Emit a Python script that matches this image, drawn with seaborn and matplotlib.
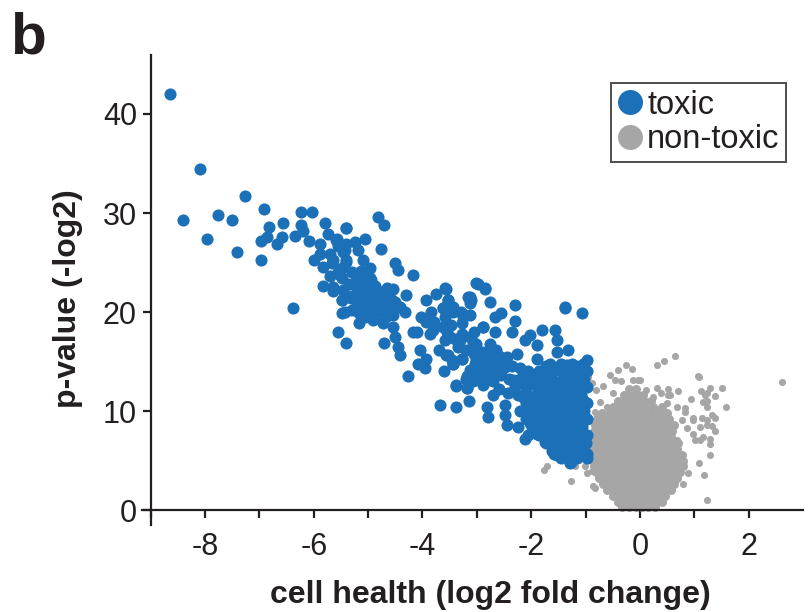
import matplotlib
matplotlib.use("Agg")
import matplotlib.pyplot as plt
from matplotlib.lines import Line2D
import seaborn as sns
import pandas as pd

# ---------------------------------------------------------------------------
# Data: cell health (log2 fold change) vs p-value (-log2)
# ---------------------------------------------------------------------------
toxic_far = [
    (-8.64, 42.0), (-8.10, 34.4), (-7.26, 31.7), (-8.40, 29.3), (-7.76, 29.8),
    (-7.51, 29.3), (-7.96, 27.4), (-7.42, 26.1), (-6.92, 30.4), (-6.97, 25.3),
    (-6.38, 20.4), (-6.23, 30.1), (-6.03, 30.1), (-6.83, 28.6), (-6.57, 29.0),
    (-6.23, 28.8), (-6.97, 27.2), (-6.87, 27.6), (-6.68, 26.9), (-6.58, 27.6),
    (-6.34, 27.7), (-6.19, 28.2), (-6.08, 27.2), (-5.79, 29.0), (-5.74, 27.9),
    (-5.89, 26.9), (-5.57, 27.4), (-5.41, 28.5), (-5.71, 25.9), (-5.88, 25.9),
    (-5.99, 25.3), (-5.83, 24.5), (-5.66, 25.0), (-5.49, 24.4), (-5.70, 23.6),
    (-5.83, 22.6), (-5.65, 22.1), (-5.49, 23.4), (-5.43, 26.3), (-5.49, 21.2),
    (-5.49, 19.9), (-5.40, 25.3), (-5.55, 26.7),
]

toxic_mid = [
    (-4.81, 29.6), (-4.71, 28.8), (-5.40, 28.5), (-5.06, 27.4), (-5.25, 27.1),
    (-5.40, 26.9), (-5.59, 27.3), (-4.77, 26.4), (-5.19, 26.3), (-5.46, 26.1),
    (-5.10, 25.3), (-5.40, 25.1), (-4.51, 25.0), (-4.45, 24.2), (-4.17, 23.7),
    (-4.96, 24.4), (-5.13, 24.1), (-5.52, 23.7), (-4.97, 23.4), (-5.22, 23.1),
    (-5.10, 22.6), (-5.46, 22.2), (-4.66, 22.4), (-4.54, 22.3), (-4.30, 21.7),
    (-4.91, 22.1), (-4.79, 21.5), (-5.49, 21.2), (-5.31, 21.4), (-5.10, 21.2),
    (-4.94, 20.9), (-4.73, 21.0), (-4.57, 21.2), (-4.42, 20.5), (-4.33, 20.0),
    (-5.43, 20.0), (-5.16, 19.9), (-4.97, 20.2), (-4.79, 20.2), (-4.54, 19.7),
    (-5.16, 18.9), (-4.91, 19.2), (-4.73, 18.9), (-4.54, 18.5), (-5.56, 18.0),
    (-5.40, 16.9), (-4.71, 16.9), (-4.51, 17.5), (-4.45, 16.5), (-4.42, 15.7),
    (-4.27, 13.5), (-4.17, 18.0), (-3.93, 21.2), (-4.02, 19.5), (-3.93, 19.0),
    (-3.87, 17.8), (-4.05, 16.2), (-4.08, 14.8), (-3.93, 15.3), (-3.96, 14.3),
    (-3.78, 19.0), (-3.59, 22.4), (-3.53, 21.2), (-3.62, 20.4), (-3.44, 20.5),
    (-3.59, 19.5), (-3.62, 18.5), (-3.47, 18.7), (-3.59, 17.2), (-3.41, 17.3),
    (-3.53, 15.7), (-3.44, 14.8), (-3.28, 17.8), (-3.25, 19.5), (-3.13, 19.7),
    (-3.16, 21.5), (-3.01, 22.9), (-2.85, 22.4), (-3.10, 21.2), (-2.89, 18.5),
    (-3.13, 17.5), (-3.01, 16.8), (-3.28, 15.3), (-3.04, 14.8), (-2.89, 14.5),
    (-3.19, 13.5), (-3.38, 12.5), (-3.19, 12.3), (-3.07, 13.0), (-2.89, 12.8),
    (-5.65, 25.3), (-5.65, 22.5),
    (-5.20, 22.0), (-5.05, 22.3), (-4.88, 22.6), (-4.75, 22.0), (-5.30, 21.6),
    (-5.15, 21.4), (-5.00, 21.6), (-4.85, 21.3), (-4.65, 21.6), (-4.50, 21.0),
    (-5.20, 20.6), (-5.05, 20.5), (-4.90, 20.7), (-4.75, 20.4), (-4.60, 20.6),
    (-5.30, 20.2), (-5.05, 19.5), (-4.85, 19.8), (-4.65, 19.6), (-4.95, 23.2),
    (-5.15, 23.5), (-5.30, 24.0), (-5.55, 24.0), (-5.35, 22.8),
    (-3.80, 18.2), (-3.70, 16.2), (-3.55, 18.0), (-3.35, 16.5), (-3.20, 16.2),
    (-3.05, 18.0), (-3.30, 20.0), (-3.75, 21.8), (-3.85, 20.0), (-4.10, 18.0),
    (-3.45, 15.2), (-3.60, 14.0), (-3.20, 13.2), (-3.00, 13.8),
]

toxic_near = [
    (-2.98, 22.8), (-2.85, 22.3), (-3.57, 22.3), (-3.13, 21.5), (-3.13, 20.9),
    (-3.53, 21.2), (-2.75, 21.0), (-2.30, 20.7), (-1.38, 20.4), (-1.07, 19.9),
    (-2.55, 19.9), (-2.67, 19.5), (-3.22, 19.7), (-3.44, 20.0), (-3.62, 20.4),
    (-2.30, 19.1), (-2.89, 18.5), (-3.28, 18.9), (-2.67, 18.0), (-2.35, 18.0),
    (-1.81, 18.2), (-1.57, 18.2), (-2.03, 17.7), (-2.12, 17.2), (-1.90, 16.7),
    (-1.52, 17.2), (-3.50, 17.5), (-3.31, 17.2), (-3.07, 17.0), (-2.76, 16.8),
    (-1.32, 16.2), (-1.53, 16.0), (-3.56, 15.7), (-3.44, 14.8), (-3.28, 15.3),
    (-3.01, 15.2), (-2.92, 14.6), (-2.64, 16.2), (-2.45, 15.5), (-2.27, 15.8),
    (-2.36, 14.5), (-2.21, 14.3), (-1.90, 15.3), (-1.72, 14.5), (-2.09, 13.5),
    (-1.84, 13.8), (-1.60, 14.1), (-1.35, 14.6), (-0.98, 15.2), (-1.17, 14.5),
    (-1.07, 12.5), (-3.13, 14.1), (-2.95, 14.1), (-2.76, 14.0), (-2.58, 13.8),
    (-3.38, 12.6), (-3.19, 12.3), (-2.89, 12.6), (-2.70, 13.0), (-2.33, 13.1),
    (-2.15, 11.4), (-1.96, 11.4), (-1.78, 12.1), (-1.53, 12.6), (-1.35, 11.8),
    (-1.23, 10.8), (-1.04, 11.1), (-3.68, 10.6), (-3.39, 10.4), (-3.14, 11.0),
    (-2.82, 10.4), (-2.70, 11.6), (-2.79, 9.4), (-2.49, 10.6), (-2.49, 9.6),
    (-2.45, 8.6), (-2.24, 8.4), (-2.12, 7.2), (-2.06, 10.1), (-2.03, 8.8),
    (-1.90, 7.7), (-1.75, 6.9), (-1.69, 8.4), (-1.84, 9.8), (-1.57, 6.9),
    (-1.60, 9.4), (-1.53, 5.6), (-1.35, 7.2), (-1.26, 4.9), (-1.17, 6.1),
    (-1.04, 7.1), (-0.98, 5.7), (-1.04, 9.1), (-1.17, 8.4), (-1.35, 9.1),
    (-1.47, 9.8), (-1.17, 9.8), (-1.10, 10.4), (-1.98, 10.4), (-1.72, 10.8),
    (-1.47, 11.0), (-1.78, 13.1), (-1.29, 12.9), (-1.58, 5.7), (-1.26, 5.7),
    (-1.29, 4.8), (-1.37, 20.5),
    (-3.05, 15.8), (-2.90, 16.0), (-2.75, 15.9), (-2.60, 15.6), (-3.00, 15.0),
    (-2.85, 15.2), (-2.70, 15.0), (-2.55, 14.9), (-2.95, 14.3), (-2.80, 14.4),
    (-2.62, 14.2), (-2.48, 14.4), (-2.88, 13.5), (-2.70, 13.4), (-2.55, 13.6),
    (-2.40, 13.2), (-2.30, 12.5), (-2.42, 11.8), (-2.60, 12.2),
]

# densest part of the toxic group, one row of fold changes per p-value level
toxic_dense_y = [14.8, 14.0, 13.2, 12.4, 11.6, 10.8, 10.0, 9.2, 8.4, 7.6, 6.8, 6.0, 5.3]
toxic_dense_x = [
    [-1.65, -1.45, -1.25, -1.05],
    [-2.05, -1.85, -1.65, -1.45, -1.28, -1.10, -0.98],
    [-2.20, -2.00, -1.82, -1.62, -1.42, -1.22, -1.02],
    [-2.10, -1.90, -1.70, -1.50, -1.30, -1.12, -0.97],
    [-2.25, -2.05, -1.85, -1.66, -1.46, -1.26, -1.08],
    [-2.10, -1.92, -1.72, -1.52, -1.32, -1.14, -0.97],
    [-2.20, -2.00, -1.80, -1.60, -1.40, -1.20, -1.02],
    [-2.10, -1.90, -1.70, -1.50, -1.30, -1.12, -0.97],
    [-1.98, -1.80, -1.60, -1.42, -1.24, -1.06],
    [-2.05, -1.86, -1.66, -1.48, -1.30, -1.12, -0.97],
    [-1.72, -1.52, -1.34, -1.16, -0.99],
    [-1.62, -1.42, -1.22, -1.03],
    [-1.45, -1.15, -0.98],
]

nontoxic_spread = [
    (0.64, 15.6), (0.44, 15.1), (0.31, 14.7), (-0.25, 14.7), (-0.40, 14.1),
    (-0.15, 14.2), (-0.55, 13.6), (-0.46, 13.1), (-0.34, 13.0), (-0.12, 13.1),
    (0.00, 13.1), (-0.95, 13.4), (-0.89, 12.8), (-0.80, 12.1), (0.31, 12.3),
    (0.51, 12.2), (0.38, 11.8), (0.51, 11.6), (0.71, 12.0), (1.07, 13.5),
    (2.61, 12.9), (1.09, 13.4), (1.29, 12.3), (1.52, 12.3), (1.38, 11.5),
    (1.12, 12.0), (1.20, 11.6), (0.95, 11.2), (1.23, 11.0), (1.23, 10.4),
    (1.58, 10.4), (0.83, 10.3), (1.32, 9.6), (1.38, 9.3), (1.14, 9.3),
    (1.23, 9.1), (0.98, 9.1), (1.23, 8.6), (1.33, 8.5), (1.38, 8.0),
    (1.17, 7.4), (1.29, 7.2), (1.29, 6.7), (1.01, 7.1), (1.10, 7.1),
    (1.29, 5.6), (1.09, 4.8), (1.18, 3.5), (1.24, 1.0), (0.89, 3.7),
    (0.80, 2.6), (-0.86, 2.4), (-1.26, 2.9), (-1.20, 4.4), (-1.01, 4.5),
    (-0.89, 3.9), (-0.98, 3.7), (-1.76, 4.0), (-1.71, 4.5), (-0.83, 2.2),
    (-0.03, 13.1), (-0.68, 12.5), (-0.49, 11.8), (-0.74, 10.9), (-0.83, 9.9),
    (-0.61, 10.4), (0.12, 12.1), (0.25, 11.4), (0.55, 11.6), (0.49, 10.8),
    (0.68, 10.4), (0.83, 9.9), (0.77, 9.1), (0.98, 9.3), (0.37, 10.1),
    (0.18, 9.6), (0.03, 9.3), (0.86, 8.3), (0.98, 7.7), (1.10, 8.4),
    (0.68, 7.1), (0.74, 5.7), (0.77, 4.4), (0.64, 3.0), (0.52, 2.0),
    (0.37, 1.2), (1.23, 11.8), (1.17, 10.9),
]

# dense core of the non-toxic group, one row of fold changes per p-value level
nontoxic_core_y = [0.3, 0.8, 1.4, 2.0, 2.6, 3.2, 3.8, 4.4, 5.0, 5.6, 6.2,
                   6.8, 7.4, 8.0, 8.6, 9.2, 9.8, 10.4, 11.0, 11.6, 12.2]
nontoxic_core_x = [
    [-0.32, -0.20, -0.08, 0.04, 0.15, 0.27],
    [-0.40, -0.29, -0.17, -0.05, 0.07, 0.18, 0.30, 0.41],
    [-0.50, -0.38, -0.26, -0.14, -0.02, 0.10, 0.22, 0.34, 0.46],
    [-0.60, -0.48, -0.36, -0.24, -0.12, 0.00, 0.12, 0.24, 0.36, 0.48, 0.58],
    [-0.68, -0.56, -0.44, -0.32, -0.20, -0.08, 0.04, 0.16, 0.28, 0.40, 0.52, 0.63],
    [-0.75, -0.63, -0.51, -0.39, -0.27, -0.15, -0.03, 0.09, 0.21, 0.33, 0.45, 0.57, 0.69],
    [-0.80, -0.68, -0.56, -0.44, -0.32, -0.20, -0.08, 0.04, 0.16, 0.28, 0.40, 0.52, 0.64, 0.74],
    [-0.84, -0.72, -0.60, -0.48, -0.36, -0.24, -0.12, 0.00, 0.12, 0.24, 0.36, 0.48, 0.60, 0.72, 0.80],
    [-0.86, -0.75, -0.63, -0.51, -0.39, -0.27, -0.15, -0.03, 0.09, 0.21, 0.33, 0.45, 0.57, 0.69, 0.80],
    [-0.87, -0.76, -0.64, -0.52, -0.40, -0.28, -0.16, -0.04, 0.08, 0.20, 0.32, 0.44, 0.56, 0.68, 0.78],
    [-0.87, -0.75, -0.63, -0.51, -0.39, -0.27, -0.15, -0.03, 0.09, 0.21, 0.33, 0.45, 0.57, 0.68],
    [-0.86, -0.74, -0.62, -0.50, -0.38, -0.26, -0.14, -0.02, 0.10, 0.22, 0.34, 0.46, 0.58, 0.70],
    [-0.86, -0.74, -0.62, -0.50, -0.38, -0.26, -0.14, -0.02, 0.10, 0.22, 0.34, 0.46, 0.58],
    [-0.84, -0.72, -0.60, -0.48, -0.36, -0.24, -0.12, 0.00, 0.12, 0.24, 0.36, 0.48, 0.60],
    [-0.82, -0.70, -0.58, -0.46, -0.34, -0.22, -0.10, 0.02, 0.14, 0.26, 0.38, 0.50, 0.62],
    [-0.78, -0.66, -0.54, -0.42, -0.30, -0.18, -0.06, 0.06, 0.18, 0.30, 0.42, 0.54],
    [-0.70, -0.55, -0.42, -0.30, -0.18, -0.06, 0.06, 0.20, 0.35, 0.50],
    [-0.50, -0.38, -0.26, -0.14, -0.02, 0.10, 0.25, 0.40],
    [-0.40, -0.28, -0.16, -0.04, 0.08, 0.20],
    [-0.30, -0.18, -0.06, 0.06],
    [-0.20, -0.08],
]

group_labels = ["toxic", "non-toxic"]
group_colors = ["#1b70b8", "#a6a6a6"]
x_tick_values = [-8, -6, -4, -2, 0, 2]
y_tick_values = [0, 10, 20, 30, 40]


def rows_to_points(ys, xs_rows):
    return [(x, y) for y, xs in zip(ys, xs_rows) for x in xs]


toxic_pts = toxic_far + toxic_mid + toxic_near + rows_to_points(toxic_dense_y, toxic_dense_x)

toxic_df = pd.DataFrame(toxic_pts, columns=["fc", "p"])
spread_df = pd.DataFrame(nontoxic_spread, columns=["fc", "p"])
core_df = pd.DataFrame(rows_to_points(nontoxic_core_y, nontoxic_core_x),
                       columns=["fc", "p"])

# ---------------------------------------------------------------------------
# Figure
# ---------------------------------------------------------------------------
sns.set_style("ticks")
plt.rcParams["font.family"] = ["Liberation Sans", "DejaVu Sans"]
ink = "#231f20"

fig = plt.figure(figsize=(8.12, 6.12), dpi=100)
ax = fig.add_axes([0.1743, 0.1423, 0.8145, 0.7685])

# non-toxic genes underneath, toxic genes on top
sns.scatterplot(data=spread_df, x="fc", y="p", color=group_colors[1], s=26,
                linewidth=0, alpha=1, ax=ax, legend=False, zorder=2)
sns.scatterplot(data=core_df, x="fc", y="p", color=group_colors[1], s=42,
                linewidth=0, alpha=1, ax=ax, legend=False, zorder=2)
sns.scatterplot(data=toxic_df, x="fc", y="p", color=group_colors[0], s=76,
                linewidth=0, alpha=1, ax=ax, legend=False, zorder=3)

ax.set_xlim(-9.17, 3.0)
ax.set_ylim(-1.5, 46.0)

ax.spines["left"].set_position(("data", -9))
ax.spines["bottom"].set_position(("data", 0))
for side in ("top", "right"):
    ax.spines[side].set_visible(False)
for side in ("left", "bottom"):
    ax.spines[side].set_linewidth(1.6)
    ax.spines[side].set_color(ink)

ax.set_xticks(list(range(-9, 3)))
ax.set_xticklabels([str(v) if v in x_tick_values else "" for v in range(-9, 3)])
ax.set_yticks(y_tick_values)
ax.set_yticklabels([str(v) for v in y_tick_values])
ax.tick_params(axis="both", direction="out", length=6, width=1.6, color=ink,
               labelsize=22, labelcolor=ink)
ax.tick_params(axis="x", pad=10)
ax.tick_params(axis="y", pad=4)

ax.set_xlabel("cell health (log2 fold change)", fontsize=23, fontweight="bold",
              color=ink)
ax.set_ylabel("p-value (-log2)", fontsize=23, fontweight="bold", color=ink)
ax.xaxis.set_label_coords(0.527, -0.118)
ax.yaxis.set_label_coords(-0.088, 0.482)

handles = [Line2D([], [], marker="o", linestyle="", markersize=18,
                  markerfacecolor=c, markeredgewidth=0) for c in group_colors]
leg = ax.legend(handles, group_labels, loc="upper right",
                bbox_to_anchor=(0.9745, 0.9396), borderaxespad=0,
                frameon=True, fancybox=False, fontsize=23.5,
                handlelength=0.75, handletextpad=0.15, borderpad=0.2,
                labelspacing=0.12)
leg.get_frame().set_edgecolor(ink)
leg.get_frame().set_linewidth(1.4)
for t in leg.get_texts():
    t.set_color(ink)

fig.text(0.012, 0.912, "b", fontsize=42, fontweight="bold", color=ink,
         ha="left", va="baseline")

fig.savefig("out.png", dpi=100, facecolor="white")
